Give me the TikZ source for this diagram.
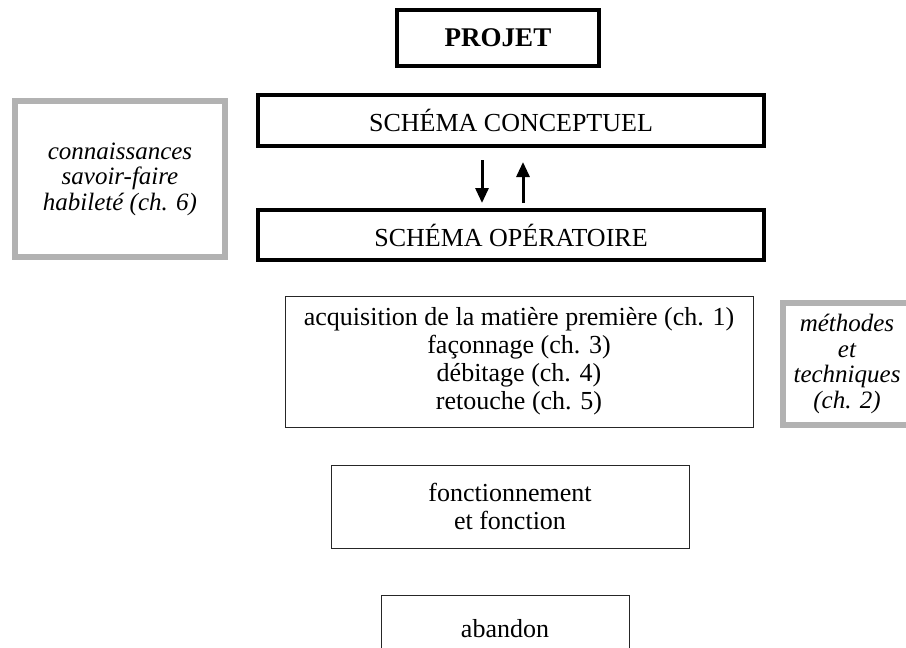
\documentclass[tikz,border=0pt]{standalone}
\usepackage{fontspec}
\setmainfont{Liberation Serif}
\usetikzlibrary{arrows.meta}
\begin{document}
\begin{tikzpicture}[x=1pt,y=-1pt,font=\fontsize{26}{28}\selectfont,
  boldbox/.style={draw,line width=4pt,inner sep=0pt,outer sep=0pt},
  thinbox/.style={draw=black!85,line width=1pt,inner sep=0pt,outer sep=0pt,align=center},
  greybox/.style={draw=black!30,line width=6pt,inner sep=0pt,outer sep=0pt,align=center,
    font=\fontsize{25}{25.5}\selectfont\itshape},
  flow/.style={line width=3pt,-{Triangle[width=13pt,length=15pt]}}]
\useasboundingbox (0,0) rectangle (906,648);
\node[boldbox,minimum width=202pt,minimum height=56pt,font=\fontsize{27}{27}\selectfont\bfseries] (projet) at (498,38) {PROJET};
\node[boldbox,minimum width=506pt,minimum height=51pt] (con) at (511,120.5) {SCHÉMA CONCEPTUEL};
\node[boldbox,minimum width=506pt,minimum height=50pt] (ope) at (511,235) {SCHÉMA OPÉRATOIRE};
\draw[flow,shorten <=14pt,shorten >=7pt] ([xshift=-29pt]con.south) -- ([xshift=-29pt]ope.north);
\draw[flow,shorten <=7pt,shorten >=16pt] ([xshift=12pt]ope.north) -- ([xshift=12pt]con.south);
% side boxes
\node[greybox,minimum width=210pt,minimum height=156pt] (savoir) at (120,179) {connaissances\\savoir-faire\\habileté (ch. 6)};
\node[greybox,minimum width=128pt,minimum height=122pt] (methodes) at (847,364) {méthodes\\et\\techniques\\(ch. 2)};
% chaine
\node[thinbox,minimum width=468pt,minimum height=131pt] (acq) at (519,361.5) {acquisition de la matière première (ch. 1)\\façonnage (ch. 3)\\débitage (ch. 4)\\retouche (ch. 5)};
\node[thinbox,minimum width=358pt,minimum height=83pt] (fonc) at (510,506.5) {fonctionnement\\et fonction};
\node[thinbox,anchor=north,minimum width=248pt,inner ysep=24pt] (aband) at (505,595) {abandon};
\end{tikzpicture}
\end{document}
